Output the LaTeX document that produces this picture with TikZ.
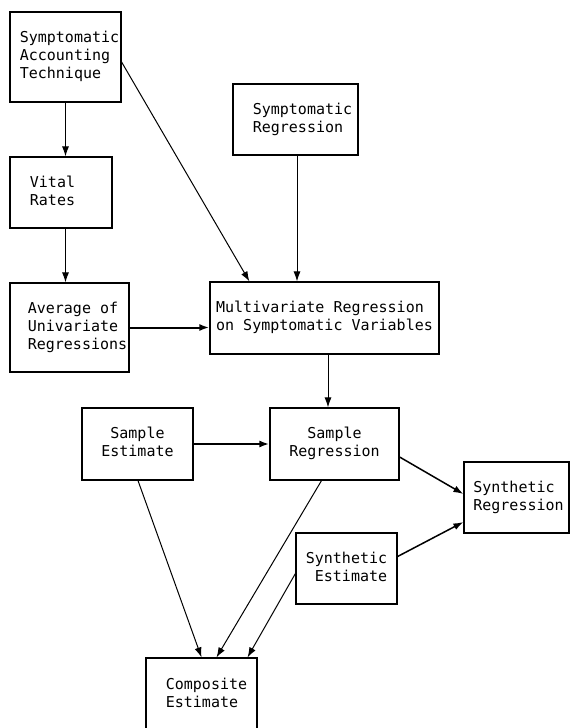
\documentclass[tikz,border=0pt]{standalone}
\usepackage{fontspec}
\newfontfamily\boxfont{DejaVu Sans Mono}
\usetikzlibrary{arrows.meta,calc}
\tikzset{
  box/.style={draw, line width=1.2pt, inner sep=0pt, rectangle,
    font=\boxfont\fontsize{15}{18}\selectfont},
  conn/.style={line width=1pt, -{Latex[length=10pt,width=7pt]}},
  thickconn/.style={conn, line width=2pt},
  medconn/.style={conn, line width=1.5pt}
}
\newcommand{\lbl}[2]{\hspace*{#1}\begin{tabular}{@{}l@{}}#2\end{tabular}}
\newcommand{\cbl}[1]{\begin{tabular}{@{}c@{}}#1\end{tabular}}
\newcommand{\rbl}[1]{\begin{tabular}{@{}r@{}}#1\end{tabular}}
\begin{document}
\begin{tikzpicture}[x=1pt,y=-1pt]
\fill[white] (0,0) rectangle (571,728);
\useasboundingbox (0,0) rectangle (571,728);
\node[box, minimum width=111pt, minimum height=90pt] (sat) at (65.5,57)
  {\lbl{8pt}{Symptomatic\\Accounting\\Technique}};
\node[box, minimum width=102pt, minimum height=71pt] (vital) at (61,192.5)
  {\lbl{-17pt}{Vital\\Rates}};
\node[box, minimum width=119pt, minimum height=89pt] (avg) at (69.5,327.5)
  {\lbl{16pt}{Average of\\Univariate\\Regressions}};
\node[box, minimum width=125pt, minimum height=71pt] (symreg) at (295.5,119.5)
  {\lbl{14pt}{Symptomatic\\Regression}};
\node[box, minimum width=229pt, minimum height=72pt] (multi) at (324.5,318)
  {\lbl{0pt}{Multivariate Regression\\on Symptomatic Variables}};
\node[box, minimum width=111pt, minimum height=72pt] (sest) at (137.5,444)
  {\cbl{Sample\\Estimate}};
\node[box, minimum width=129pt, minimum height=72pt] (sreg) at (334.5,444)
  {\cbl{Sample\\Regression}};
\node[box, minimum width=105pt, minimum height=71pt] (synreg) at (516.5,497.5)
  {\lbl{4pt}{Synthetic\\Regression}};
\node[box, minimum width=101pt, minimum height=71pt] (synest) at (346.5,568.5)
  {\rbl{Synthetic\\Estimate}};
\node[box, minimum width=111pt, minimum height=73pt] (comp) at (201.5,694.5)
  {\lbl{10pt}{Composite\\Estimate}};

\coordinate (symout) at ($(symreg.south)+(1.5,0)$);
\coordinate (multiout) at ($(multi.south)+(3.5,0)$);

\draw[conn] (sat.south) -- (sat.south |- vital.north);
\draw[conn] (vital.south -| sat.south) -- (avg.north -| sat.south);
\draw[conn] ($(sat.east)+(0,5)$) -- ($(multi.north west)+(40,0)$);
\draw[conn] (symout) -- (symout |- multi.north);
\draw[thickconn] (avg.east) -- (avg.east -| multi.west);
\draw[conn] (multiout) -- (multiout |- sreg.north);
\draw[thickconn] (sest.east) -- (sest.east -| sreg.west);
\draw[medconn] ($(sreg.east)+(0,13)$) -- ($(synreg.west)+(0,-3.5)$);
\draw[medconn] ($(synest.east)+(0,-12)$) -- ($(synreg.west)+(0,24.5)$);
\draw[conn] ($(sest.south)+(0.5,0)$) -- (comp.north);
\draw[conn] ($(sreg.south)+(-13,0)$) -- ($(comp.north)+(15,0)$);
\draw[conn] ($(synest.west)+(0,5)$) -- ($(comp.north)+(46,0)$);
\end{tikzpicture}
\end{document}
